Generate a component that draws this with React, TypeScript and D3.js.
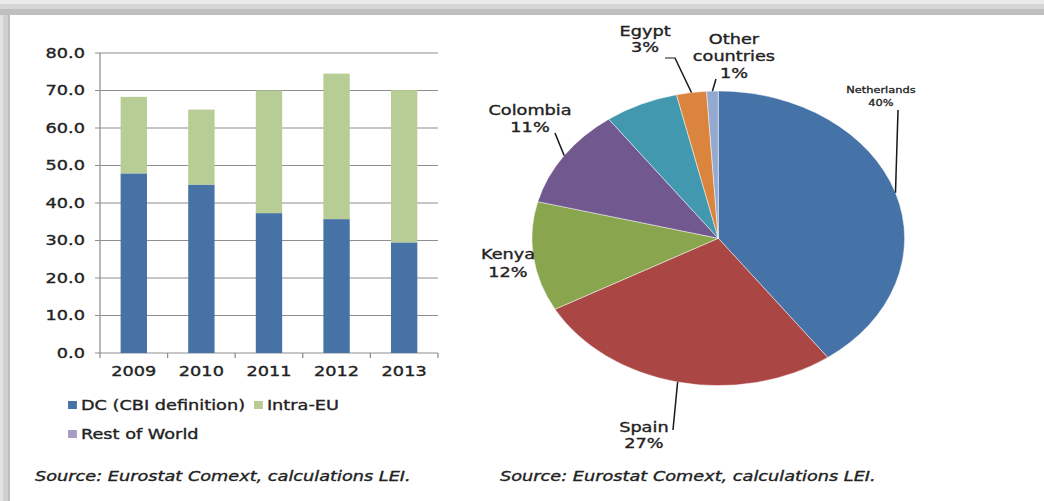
import React from "react";
import * as d3 from "d3";

// ---------- data ----------
const years = ["2009", "2010", "2011", "2012", "2013"];
const dcValues = [47.9, 44.9, 37.3, 35.7, 29.5];
const intraEuValues = [20.4, 20.0, 32.7, 38.8, 40.6];
const restOfWorldValues = [0, 0, 0, 0, 0];
const yTicks = [0, 10, 20, 30, 40, 50, 60, 70, 80];
const barSeriesNames = ["DC (CBI definition)", "Intra-EU", "Rest of World"];

const pieNames = ["Netherlands", "Spain", "Kenya", "Colombia", "Other (unlabelled)", "Egypt", "Other countries"];
const pieValues = [40, 27, 12, 11, 6.4, 2.6, 1.0];
const pieLabelLines = [["Netherlands"], ["Spain"], ["Kenya"], ["Colombia"], [], ["Egypt"], ["Other", "countries"]];

const sourceText = "Source: Eurostat Comext, calculations LEI.";

// ---------- styles ----------
const K = 1.265; // horizontal stretch of the whole picture
const FONT = "'DejaVu Sans', Verdana, sans-serif";
const TEXT = "#222";
const barColors = ["#4672a6", "#b8cd95", "#a99cc3"];
const pieColors = ["#4572a7", "#aa4643", "#89a54e", "#71588f", "#4198af", "#db843d", "#93a9cf"];

export default function App() {
  const W = 1044, H = 501;

  // bar chart
  const plotLeft = 79.05, plotRight = 346.2, gridLeft = 75.1;
  const y = d3.scaleLinear().domain([0, 80]).range([353, 53]);
  const x = d3.scaleBand<string>().domain(years).range([plotLeft, plotRight]).paddingInner(0.61).paddingOuter(0.305);
  const stackData = years.map((yr, i) => ({ year: yr, dc: dcValues[i], eu: intraEuValues[i], row: restOfWorldValues[i] }));
  const stack = d3.stack<any>().keys(["dc", "eu", "row"])(stackData);
  const step = x.step();
  const boundaries = d3.range(years.length + 1).map((i) => plotLeft + i * step);

  // pie chart
  const cx = 567.8, cy = 238.3, r = 147.3;
  const pie = d3.pie<number>().sort(null).startAngle(0).endAngle(2 * Math.PI);
  const arcs = pie(pieValues);
  const arc = d3.arc<d3.PieArcDatum<number>>().innerRadius(0).outerRadius(r);
  const total = d3.sum(pieValues);
  const pct = d3.format(".0%");

  const labelLayout: Record<number, { x: number; y: number; lh: number; fs: number; leader?: [number, number][] }> = {
    0: { x: 696.4, y: 93, lh: 13, fs: 9, leader: [[709.9, 110]] },
    1: { x: 509, y: 432, lh: 16.5, fs: 14, leader: [[532, 430]] },
    2: { x: 401.6, y: 259, lh: 18, fs: 14 },
    3: { x: 419, y: 115, lh: 17, fs: 14, leader: [[438.7, 133]] },
    5: { x: 510, y: 36, lh: 16, fs: 14, leader: [[525.7, 58], [533.6, 58]] },
    6: { x: 580.2, y: 44, lh: 17, fs: 14, leader: [[566, 79]] },
  };

  const ts = { stroke: TEXT, strokeWidth: 0.35 };

  return (
    <svg width={W} height={H} style={{ position: "absolute", left: 0, top: 0, background: "#fff" }}>
      {/* frame */}
      <rect x={0} y={0} width={W} height={H} fill="#fff" />
      <rect x={0} y={0} width={W} height={4} fill="#ebebeb" />
      <rect x={0} y={4} width={W} height={5} fill="#d6d6d6" />
      <rect x={0} y={9} width={W} height={6} fill="#bfbfbf" />
      <rect x={0} y={15} width={3} height={H - 15} fill="#e2e2e2" />
      <rect x={3} y={15} width={5} height={H - 15} fill="#d0d0d0" />
      <rect x={8} y={15} width={2} height={H - 15} fill="#bdbdbd" />

      <g transform={`scale(${K},1)`} fontFamily={FONT} fill={TEXT}>
        {yTicks.map((t) => (
          <g key={t}>
            <line x1={gridLeft} x2={plotRight} y1={y(t)} y2={y(t)} stroke="#8e8e8e" strokeWidth={1} />
            <text x={67.2} y={y(t) + 5} textAnchor="end" fontSize={14} {...ts}>
              {d3.format(".1f")(t)}
            </text>
          </g>
        ))}
        <line x1={plotLeft} x2={plotLeft} y1={y(80)} y2={y(0)} stroke="#8e8e8e" strokeWidth={1} />
        {boundaries.map((b, i) => (
          <line key={i} x1={b} x2={b} y1={y(0)} y2={y(0) + 5} stroke="#8e8e8e" strokeWidth={1} />
        ))}
        {stack.map((s, si) => (
          <g key={si} fill={barColors[si]}>
            {s.map((d, i) => (
              <rect key={i} x={x(years[i])} width={x.bandwidth()} y={y(d[1])} height={Math.max(0, y(d[0]) - y(d[1]))} />
            ))}
          </g>
        ))}
        {years.map((yr) => (
          <text key={yr} x={(x(yr) as number) + x.bandwidth() / 2} y={376} textAnchor="middle" fontSize={14} {...ts}>
            {yr}
          </text>
        ))}
        {[
          { x: 53.8, y: 401, tx: 64, ty: 410 },
          { x: 200.8, y: 401, tx: 211, ty: 410 },
          { x: 53.8, y: 430, tx: 64, ty: 439 },
        ].map((p, i) => (
          <g key={i}>
            <rect x={p.x} y={p.y} width={7} height={8} fill={barColors[i]} />
            <text x={p.tx} y={p.ty} fontSize={14} {...ts}>
              {barSeriesNames[i]}
            </text>
          </g>
        ))}

        <g transform={`translate(${cx},${cy})`}>
          {arcs.map((a, i) => (
            <path key={i} d={arc(a) as string} fill={pieColors[i]} stroke="#ffffff" strokeWidth={0.6} strokeOpacity={0.7} />
          ))}
        </g>
        {arcs.map((a, i) => {
          const L = labelLayout[i];
          if (!L) return null;
          const mid = (a.startAngle + a.endAngle) / 2;
          const ex = cx + Math.sin(mid) * r;
          const ey = cy - Math.cos(mid) * r;
          const lines = [...pieLabelLines[i], pct(pieValues[i] / total)];
          return (
            <g key={i}>
              {L.leader && (
                <path d={d3.line()([...L.leader, [ex, ey]]) as string} fill="none" stroke="#1a1a1a" strokeWidth={1.2} />
              )}
              {lines.map((ln, j) => (
                <text key={j} x={L.x} y={L.y + j * L.lh} textAnchor="middle" fontSize={L.fs} stroke={TEXT} strokeWidth={L.fs < 10 ? 0.3 : 0.35}>
                  {ln}
                </text>
              ))}
            </g>
          );
        })}

        <text x={27.7} y={481} fontSize={14} fontStyle="italic" {...ts}>
          {sourceText}
        </text>
        <text x={395.3} y={481} fontSize={14} fontStyle="italic" {...ts}>
          {sourceText}
        </text>
      </g>
    </svg>
  );
}
